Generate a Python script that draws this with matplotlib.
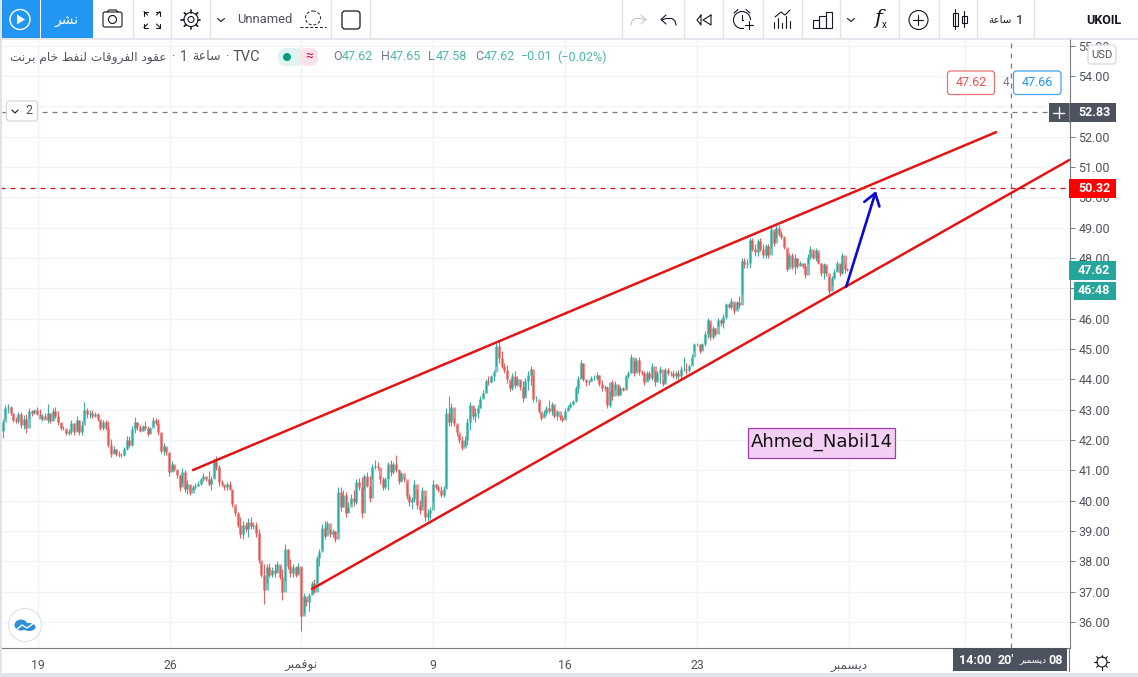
import numpy as np
import matplotlib
matplotlib.use("Agg")
import matplotlib.pyplot as plt
from matplotlib.patches import Rectangle, FancyBboxPatch, Circle, Polygon, Ellipse

plt.rcParams['font.family'] = ['Roboto', 'DejaVu Sans']

highs = [42.50,42.69,43.16,43.20,43.13,42.89,42.76,42.91,42.93,42.83,
42.87,43.05,43.00,43.03,43.08,43.02,42.87,42.89,43.20,42.89,
43.05,43.09,42.95,42.56,42.47,42.34,42.36,42.67,42.56,42.78,
42.65,42.62,43.25,43.05,43.00,42.98,42.91,42.89,42.67,42.65,
42.65,42.62,42.03,41.79,41.70,41.63,41.57,41.77,42.12,42.14,
42.45,42.76,42.59,42.50,42.50,42.62,42.45,42.43,42.75,42.72,
42.69,42.23,41.90,41.74,41.57,41.32,41.15,41.02,40.86,41.08,
41.02,40.67,40.53,40.53,40.58,40.64,40.75,40.91,40.78,40.97,
40.80,41.41,41.46,41.19,40.69,40.53,40.61,40.64,40.34,39.79,
39.64,39.45,39.34,39.29,39.42,39.45,39.29,39.31,39.07,37.96,
37.91,37.91,37.96,37.80,37.91,38.02,37.85,37.74,38.57,38.41,
38.07,37.91,37.85,37.96,37.80,36.97,36.75,36.97,37.36,37.41,
38.19,38.41,39.23,39.34,39.34,39.07,39.07,39.01,40.45,40.45,
40.34,40.28,39.95,40.23,40.34,40.72,40.75,40.78,40.89,40.94,
40.83,41.22,41.33,41.28,40.83,40.78,40.78,41.28,41.33,41.28,
41.52,41.05,40.94,40.78,40.61,40.23,40.12,40.67,40.39,40.01,
40.45,40.17,39.73,39.79,40.67,40.56,40.52,40.48,40.50,43.05,
43.46,43.22,42.72,42.50,42.17,42.12,42.12,42.72,43.27,43.11,
43.05,43.16,43.44,43.66,44.02,44.10,44.15,44.32,45.20,45.29,
44.92,44.54,44.48,43.93,44.21,44.26,44.10,43.99,43.93,44.04,
44.26,44.43,44.15,43.44,43.27,42.89,43.00,43.11,43.33,43.27,
43.05,43.00,42.84,42.84,43.05,43.16,43.27,43.31,43.77,44.10,
44.63,44.54,43.99,43.99,44.10,44.15,44.23,44.15,43.99,43.82,
43.77,43.60,43.99,43.93,43.82,43.77,43.75,44.15,44.26,44.85,
44.59,44.70,44.74,44.32,44.26,44.26,44.26,44.54,44.26,44.26,
44.43,43.99,44.37,44.37,44.26,44.32,44.26,44.32,44.44,44.74,
44.55,44.49,44.82,45.21,45.21,45.15,45.21,45.59,46.03,45.87,
45.76,45.70,46.03,45.98,46.14,46.53,46.53,46.69,46.53,46.60,
46.75,48.01,48.01,47.96,48.67,48.67,48.45,48.62,48.65,48.45,
48.45,48.45,49.02,48.89,49.09,49.09,48.89,48.73,48.29,48.18,
48.18,48.12,48.01,47.90,47.85,47.85,48.12,48.40,48.23,48.34,
48.18,47.85,47.85,47.74,47.41,47.41,47.63,47.90,47.79,48.18,
47.85,47.68]

lows = [42.07,42.07,42.69,42.89,42.83,42.59,42.56,42.56,42.40,42.36,
42.23,42.72,42.78,42.87,42.83,42.78,42.62,42.72,42.56,42.56,
42.65,42.72,42.51,42.32,42.32,42.15,42.18,42.20,42.15,42.29,
42.15,42.18,42.62,42.72,42.72,42.72,42.76,42.62,42.32,42.32,
42.32,41.77,41.43,41.57,41.48,41.43,41.43,41.46,41.68,41.77,
41.79,42.23,42.34,42.25,42.29,42.34,42.12,42.23,42.45,42.50,
42.18,41.57,41.52,41.52,40.83,40.97,40.99,40.75,40.31,40.58,
40.28,40.23,40.18,40.36,40.38,40.47,40.53,40.64,40.64,40.47,
40.34,40.78,41.02,40.47,40.47,40.36,40.34,40.34,39.79,39.51,
39.12,38.76,38.74,38.98,38.79,39.07,39.07,38.81,37.96,37.47,
36.59,37.30,37.47,37.47,37.47,37.69,37.41,36.73,37.36,37.74,
37.47,37.47,37.47,37.63,35.70,36.31,36.53,36.36,36.92,36.95,
37.30,37.85,38.41,38.74,39.07,38.79,38.81,38.65,38.96,39.67,
39.79,39.45,39.62,39.90,39.84,39.90,40.34,39.42,40.39,40.45,
39.97,40.72,41.05,41.00,40.56,40.34,40.39,40.34,40.83,40.89,
40.94,40.56,40.61,40.61,40.06,39.84,39.73,39.95,39.73,39.57,
39.84,39.34,39.34,39.40,39.95,40.39,40.28,40.12,40.12,40.45,
42.45,42.45,42.45,42.12,41.90,41.66,41.79,41.85,42.34,42.69,
42.61,42.72,43.05,43.38,43.55,43.82,43.88,43.93,44.43,44.54,
44.37,44.21,43.88,43.60,43.66,43.71,43.77,43.66,43.27,43.44,
43.66,43.82,43.27,43.27,42.89,42.65,42.78,42.84,42.89,42.84,
42.72,42.65,42.67,42.58,42.72,43.00,43.05,43.16,43.27,43.55,
44.04,43.93,43.77,43.82,43.93,43.99,43.99,43.77,43.60,43.60,
43.05,43.09,43.33,43.66,43.44,43.49,43.60,43.71,44.04,44.21,
44.10,44.26,44.15,44.15,43.82,43.99,43.99,43.99,43.79,43.99,
43.88,43.79,43.93,44.15,44.10,44.04,44.01,44.01,44.05,44.27,
44.19,44.25,44.49,44.93,45.10,44.88,44.99,45.10,45.37,45.29,
45.32,45.43,45.76,45.76,45.70,45.98,46.36,46.31,46.14,46.31,
46.36,46.80,47.68,47.68,47.68,48.23,48.07,48.07,48.23,48.01,
48.01,48.01,48.34,48.40,48.67,48.73,48.62,48.29,47.57,47.74,
47.63,47.48,47.68,47.74,47.68,47.35,47.79,47.96,47.96,47.90,
47.79,47.41,47.30,47.41,46.80,47.08,47.30,47.57,47.41,47.46,
47.52,47.57]

closes = [42.30,42.60,43.05,43.10,42.90,42.65,42.62,42.85,42.50,42.70,
42.40,42.95,42.88,43.00,42.85,42.70,42.80,42.65,42.90,42.62,
42.95,42.80,42.60,42.40,42.38,42.22,42.30,42.55,42.25,42.65,
42.25,42.50,43.00,42.85,42.90,42.80,42.85,42.70,42.40,42.60,
42.38,41.85,41.55,41.72,41.55,41.50,41.50,41.70,42.00,41.85,
42.35,42.60,42.42,42.30,42.45,42.40,42.20,42.40,42.65,42.55,
42.25,41.65,41.80,41.60,40.95,41.20,41.05,40.85,40.45,40.95,
40.40,40.55,40.25,40.45,40.50,40.55,40.70,40.80,40.70,40.55,
40.70,41.30,41.10,40.60,40.55,40.45,40.55,40.40,39.90,39.60,
39.20,38.90,39.20,39.05,39.30,39.15,39.20,38.95,38.05,37.55,
37.05,37.80,37.55,37.70,37.60,37.90,37.50,37.00,38.40,37.85,
37.60,37.80,37.55,37.85,36.20,36.85,36.65,36.90,37.30,37.00,
38.10,38.30,39.10,38.85,39.25,38.90,39.00,38.75,40.30,39.80,
40.20,39.60,39.80,40.10,39.95,40.60,40.45,39.60,40.80,40.50,
40.10,41.10,41.15,41.10,40.70,40.45,40.70,41.20,40.95,41.20,
41.00,40.65,40.90,40.70,40.15,39.95,40.05,40.55,39.85,39.70,
40.35,39.45,39.60,39.70,40.55,40.45,40.35,40.20,40.40,42.90,
42.60,43.10,42.55,42.25,42.00,41.75,42.00,42.60,43.15,42.80,
42.90,43.05,43.35,43.55,43.95,43.90,44.10,44.25,45.10,44.70,
44.45,44.30,44.00,43.70,44.10,43.80,44.00,43.75,43.40,43.95,
44.15,44.35,43.35,43.35,42.95,42.72,42.90,43.05,42.95,43.20,
42.80,42.95,42.75,42.65,42.95,43.10,43.20,43.28,43.70,44.00,
44.55,44.00,43.90,43.95,44.05,44.05,44.15,43.85,43.70,43.75,
43.15,43.90,43.45,43.85,43.50,43.70,43.65,44.10,44.20,44.75,
44.20,44.65,44.25,44.20,43.90,44.20,44.05,44.45,43.90,44.20,
44.35,43.85,44.30,44.20,44.20,44.10,44.20,44.10,44.35,44.35,
44.30,44.45,44.75,45.15,45.15,44.95,45.15,45.50,45.95,45.40,
45.70,45.50,45.95,45.85,46.05,46.50,46.40,46.60,46.25,46.55,
46.45,47.90,47.80,47.85,48.60,48.30,48.20,48.55,48.30,48.10,
48.40,48.10,48.95,48.50,49.00,48.80,48.70,48.35,47.65,48.10,
47.70,48.00,47.75,47.85,47.75,47.45,48.05,48.30,48.00,48.25,
47.85,47.50,47.80,47.50,46.90,47.35,47.55,47.85,47.50,48.10,
47.65,47.62]

price_ticks = list(range(36, 56))
hidden_price_ticks = [47, 53]
date_positions = [14.4, 64.4, 114, 164, 214, 264, 321.6]
date_names = ["19", "26", "نوفمبر", "9", "16", "23", "ديسمبر"]
hidden_date_position = 365.5
upper_channel = ([73.1, 377.3], [41.01, 52.15])
lower_channel = ([118.2, 405.0], [37.09, 51.23])
target_arrow = ([320.5, 331.8], [47.05, 50.21])
target_level = 50.32
cursor_level = 52.83
cursor_bar = 382.8
last_price = 47.62

# ---------- Arabic shaping: matplotlib draws glyphs one by one, left to right
_forms = {'ا':(0xFE8D,0xFE8E),'ب':(0xFE8F,0xFE90,0xFE91,0xFE92),'ة':(0xFE93,0xFE94),
 'ت':(0xFE95,0xFE96,0xFE97,0xFE98),'خ':(0xFEA5,0xFEA6,0xFEA7,0xFEA8),'د':(0xFEA9,0xFEAA),
 'ر':(0xFEAD,0xFEAE),'س':(0xFEB1,0xFEB2,0xFEB3,0xFEB4),'ش':(0xFEB5,0xFEB6,0xFEB7,0xFEB8),
 'ط':(0xFEC1,0xFEC2,0xFEC3,0xFEC4),'ع':(0xFEC9,0xFECA,0xFECB,0xFECC),'ف':(0xFED1,0xFED2,0xFED3,0xFED4),
 'ق':(0xFED5,0xFED6,0xFED7,0xFED8),'ل':(0xFEDD,0xFEDE,0xFEDF,0xFEE0),'م':(0xFEE1,0xFEE2,0xFEE3,0xFEE4),
 'ن':(0xFEE5,0xFEE6,0xFEE7,0xFEE8),'و':(0xFEED,0xFEEE),'ي':(0xFEF1,0xFEF2,0xFEF3,0xFEF4)}
def ar(s):
    if not any(ch in _forms for ch in s):
        return s
    out = []
    for k, c in enumerate(s):
        f = _forms.get(c)
        if f is None:
            out.append(c); continue
        p = s[k-1] if k else ' '
        n = s[k+1] if k+1 < len(s) else ' '
        jp = p in _forms and len(_forms[p]) == 4
        jn = len(f) == 4 and n in _forms
        if jp and jn: g = f[3]
        elif jp: g = f[1]
        elif jn: g = f[2]
        else: g = f[0]
        out.append(chr(g))
    return ''.join(out[::-1])

W, H = 1138, 677
fig = plt.figure(figsize=(W/100, H/100), dpi=100, facecolor='white')
PXB = 2.64
top_px, bot_px, right_px = 38, 648, 1069.5
ax = fig.add_axes([0, (H-bot_px)/H, right_px/W, (bot_px-top_px)/H])
ax.set_xlim(0, right_px/PXB)
ax.set_ylim(36-(bot_px-622)/30.33, 36+(622-top_px)/30.33)
ax.set_facecolor('white')
for s in ['top', 'left']:
    ax.spines[s].set_visible(False)
ax.spines['right'].set_color('#787b86'); ax.spines['bottom'].set_color('#787b86')
ax.spines['right'].set_linewidth(0.8); ax.spines['bottom'].set_linewidth(0.8)
ax.yaxis.tick_right()
ax.set_yticks(price_ticks)
ax.set_yticklabels(["" if v in hidden_price_ticks else f"{v:.2f}" for v in price_ticks],
                   fontsize=9, color='#50535e')
ax.set_xticks(date_positions + [hidden_date_position])
ax.set_xticklabels([ar(n) for n in date_names] + [""], fontsize=8.8, color='#50535e')
ax.tick_params(axis='y', length=3.5, width=0.7, color='#787b86', pad=3)
ax.tick_params(axis='x', length=0, pad=8)
ax.grid(True, color='#f0f3fa', lw=1.0)
ax.set_axisbelow(True)

x = np.arange(len(closes))
c = np.array(closes)
o = np.r_[c[0], c[:-1]]
cols = ['#26a69a' if b >= a else '#e0524f' for a, b in zip(o, c)]
ax.vlines(x, lows, highs, colors=cols, lw=0.8, alpha=0.9, zorder=3)
ax.vlines(x, np.minimum(o, c), np.maximum(o, c), colors=cols, lw=2.3, alpha=0.62, zorder=3)

ax.plot(*upper_channel, color='#e31414', lw=1.8, zorder=5, solid_capstyle='round')
ax.plot(*lower_channel, color='#e31414', lw=1.8, zorder=5, solid_capstyle='round')
ax.annotate('', xy=(target_arrow[0][1], target_arrow[1][1]), xytext=(target_arrow[0][0], target_arrow[1][0]),
            arrowprops=dict(arrowstyle='->,head_length=0.55,head_width=0.38', color='#0a0ad0', lw=1.9,
                            shrinkA=0, shrinkB=0, mutation_scale=15), zorder=6)
ax.axhline(target_level, color='#c8141e', lw=0.9, ls=(0, (4, 4)), zorder=4)
ax.plot([2/PXB, 1049/PXB], [cursor_level]*2, color='#787b86', lw=0.9, ls=(0, (4, 4)), zorder=4)
ax.axvline(cursor_bar, color='#787b86', lw=0.9, ls=(0, (4, 4)), zorder=4)

# ---------- interface overlay in screen pixels
ui = fig.add_axes([0, 0, 1, 1], zorder=10)
ui.set_xlim(0, W); ui.set_ylim(H, 0); ui.axis('off'); ui.patch.set_alpha(0)
DK = '#131722'; GR = '#50535e'; TEAL = '#26a69a'

def L(xs, ys, col=DK, lw=0.8, **k):
    ui.plot(xs, ys, color=col, lw=lw, solid_capstyle='round', **k)
def R(x0, y0, x1, y1, fc, ec='none', lw=0.8, rad=0, z=3):
    if rad:
        ui.add_patch(FancyBboxPatch((x0+rad, y0+rad), x1-x0-2*rad, y1-y0-2*rad,
                     boxstyle=f"round,pad={rad}", fc=fc, ec=ec, lw=lw, zorder=z))
    else:
        ui.add_patch(Rectangle((x0, y0), x1-x0, y1-y0, fc=fc, ec=ec, lw=lw, zorder=z))
def T(x0, y0, s, col=GR, fs=9, ha='left', **k):
    k.setdefault('zorder', 5)
    ui.text(x0, y0, s, color=col, fontsize=fs, ha=ha, va='center', **k)

# toolbar
R(0, 0, W, 38, 'white', z=1)
L([0, W], [38.5, 38.5], '#e0e3eb', 1.2)
R(0, 0, 2, H, '#e0e3eb', z=2)
R(2, 0, 40, 38, '#2196f3'); R(41, 0, 93, 38, '#2196f3')
ui.add_patch(Circle((20, 19.5), 10, fc='none', ec='white', lw=1, zorder=4))
ui.add_patch(Polygon([[17, 14.5], [17, 24.5], [25, 19.5]], fc='white', zorder=4))
T(67, 20, ar("نشر"), 'white', 10, 'center', family=['DejaVu Sans'])
for sx in [133, 171, 210.5, 331.5, 370.5, 622, 684.5, 723.5, 763, 802, 840.5, 899, 939, 977.5, 1034.5]:
    L([sx, sx], [0, 38], '#e0e3eb', 1)
# camera
R(103, 12, 122, 27, 'none', DK, 0.8, 2, 4)
ui.add_patch(Circle((112.5, 19.5), 4, fc='none', ec=DK, lw=0.8, zorder=4))
L([107, 109, 116, 118], [12, 10, 10, 12])
# fullscreen
for sx, sy in [(-1, -1), (1, -1), (-1, 1), (1, 1)]:
    cx, cy = 152+sx*8, 19.5+sy*8
    L([cx-sx*4, cx-0, cx], [cy, cy, cy-sy*4]); L([cx, cx-sx*3.5], [cy, cy-sy*3.5])
# gear
ui.add_patch(Circle((191, 19.5), 3, fc='none', ec=DK, lw=0.8, zorder=4))
ui.add_patch(Circle((191, 19.5), 7, fc='none', ec=DK, lw=0.8, zorder=4))
for a in np.deg2rad(np.arange(0, 360, 45)):
    L([191+7*np.cos(a), 191+9.5*np.cos(a)], [19.5+7*np.sin(a), 19.5+9.5*np.sin(a)], DK, 1.2)
# chevrons
for cx in [221, 851]:
    L([cx-3.5, cx, cx+3.5], [18.5, 21.5, 18.5])
T(237, 19.5, "Unnamed", GR, 9.4)
ui.add_patch(Ellipse((313, 18), 15, 14, fc='none', ec=DK, lw=0.7, ls=(0, (3, 2)), zorder=4))
L([300, 326], [27, 27], DK, 0.7, ls=(0, (3, 2)))
R(342, 11, 360, 29, 'none', DK, 0.9, 3, 4)
# right-hand toolbar icons
ui.plot([645, 641, 635, 632, 631], [20, 18.5, 18.5, 21, 25], color='#c5c8d0', lw=0.8)
L([641, 646, 641], [15, 19.5, 24], '#c5c8d0', 0.8)
ui.plot(662+np.array([0, 4, 10, 13, 14]), [20, 18.5, 18.5, 21, 25], color=DK, lw=0.8)
L([666, 661, 666], [15, 19.5, 24])
L([701, 697, 701, 701], [15, 20, 25, 15]); L([711, 703, 711, 711], [15, 20, 25, 15])
ui.add_patch(Circle((742, 20), 8.5, fc='none', ec=DK, lw=0.8, zorder=4))
L([734, 738], [13, 9.5]); L([746, 750], [9.5, 13])
L([742, 742, 746], [15, 20, 20])
R(744, 20, 754, 30, 'white', z=4)
L([745, 753], [25, 25], zorder=5); L([749, 749], [21, 29], zorder=5)
L([775, 781, 785, 790], [17, 12, 15, 10])
for k, h in enumerate([6, 10, 5, 12, 7]):
    L([774+4*k]*2, [28-h, 28])
for bx, bw, bh in [(813, 6, 8), (819, 7, 12), (826, 6, 16)]:
    ui.add_patch(Rectangle((bx, 28-bh), bw, bh, fc='none', ec=DK, lw=0.8, zorder=4))
T(878, 19, "f", DK, 15, 'center', style='italic', family=['DejaVu Serif'])
T(884, 25, "x", DK, 7, 'center')
ui.add_patch(Circle((918.5, 20), 9.5, fc='none', ec=DK, lw=0.8, zorder=4))
L([913.5, 923.5], [20, 20]); L([918.5, 918.5], [15, 25])
R(953, 13, 958, 26, 'none', DK, 0.8, 0, 4); L([955.5, 955.5], [9, 29])
R(962, 16, 967, 23, 'none', DK, 0.8, 0, 4); L([964.5, 964.5], [11, 27])
T(1023, 20, "1", DK, 9.5, 'right')
T(988, 20, ar("ساعة"), DK, 7.4, 'left', family=['DejaVu Sans'])
T(1104, 20, "UKOIL", DK, 9, 'center', fontweight='bold')

# legend line
T(10, 57, ar("عقود الفروقات لنفط خام برنت"), GR, 8.7, family=['DejaVu Sans'])
T(171, 57, "·", GR, 9); T(180, 57, "1", GR, 10)
T(192, 57, ar("ساعة"), GR, 9, family=['DejaVu Sans'])
T(225, 57, "·", GR, 9); T(233, 57, "TVC", GR, 10.5)
R(278, 48, 300, 66, '#dff3f1', rad=8); R(299, 48, 318, 66, '#fbe1ea', rad=8)
R(297, 48, 300, 66, '#dff3f1')
ui.add_patch(Circle((287, 57), 4, fc='#089981', ec='none', zorder=5))
T(309, 56.5, "≈", '#d81b60', 10, 'center')
for lx, vx, k, v in [(333, 342, 'O', '47.62'), (381, 390, 'H', '47.65'), (428, 436, 'L', '47.58'), (475, 484, 'C', '47.62')]:
    T(lx, 57, k, '#787b86', 9); T(vx, 57, v, '#4db6ac', 9)
T(521, 57, "−0.01", '#4db6ac', 9); T(557, 57, "(−0.02%)", '#4db6ac', 9)

# price chips
R(947.5, 71, 994.5, 94.5, 'white', '#e57373', 0.9, 3, 5)
T(971, 83, "47.62", '#ef5350', 9, 'center', zorder=6)
T(1006, 83, "4", '#787b86', 8.6, 'center', zorder=6)
R(1013.5, 71, 1061, 94.5, 'white', '#42a5f5', 0.9, 3, 5)
T(1037, 83, "47.66", '#2196f3', 9, 'center', zorder=6)
R(1088, 45, 1116, 64, 'white', '#d6d8de', 0.9, 3, 5)
T(1102, 55, "USD", GR, 8, 'center', zorder=6)
R(1049, 103, 1116, 121.5, '#4c525e', z=5)
L([1059, 1059], [107, 118], 'white', 1, zorder=6); L([1053.5, 1064.5], [112.5, 112.5], 'white', 1, zorder=6)
L([1069.5, 1069.5], [103, 121.5], '#787b86', 0.8, zorder=6)
T(1078, 112.5, f"{cursor_level:.2f}", 'white', 9, fontweight='bold', zorder=6)
R(1069.5, 179, 1116, 197.5, '#ff0000', z=5)
T(1078, 188.5, f"{target_level:.2f}", 'white', 9, fontweight='bold', zorder=6)
R(1069.5, 261, 1116, 280, TEAL, z=5)
T(1078, 270.5, f"{last_price:.2f}", 'white', 9, fontweight='bold', zorder=6)
R(1074, 282, 1116, 300, TEAL, z=5)
T(1078, 291, "46:48", 'white', 9, fontweight='bold', zorder=6)

# collapsed-objects button
R(6.5, 101, 37.5, 121, 'white', '#d6d8de', 0.9, 3, 5)
L([12, 15, 18], [110, 113, 110], zorder=6)
T(29, 111, "2", GR, 9, 'center', zorder=6)

# watermark logo
ui.add_patch(Circle((25, 625), 16.5, fc='white', ec='#e0e3eb', lw=0.9, zorder=5))
ui.add_patch(Ellipse((21, 625), 13, 11, fc='#2e8fd8', ec='none', zorder=6))
ui.add_patch(Ellipse((29, 627), 13, 8, fc='#2e8fd8', ec='none', zorder=6))
L([16, 22, 27, 34], [630, 625, 628, 623], 'white', 1, zorder=7)

# author tag
R(748, 428, 895.5, 458, '#f3d0f3', '#a03ab0', 0.9, 0, 5)
T(822, 441.5, "Ahmed_Nabil14", '#111111', 13, 'center', family=['DejaVu Sans'], zorder=6)

# time cursor chip and bottom strip
R(953, 648, 1067, 671, '#4c525e', z=5)
T(959, 660, "14:00", 'white', 9, fontweight='bold', zorder=6)
T(998, 660, "20'", 'white', 9, fontweight='bold', zorder=6)
T(1046, 660, ar("ديسمبر"), 'white', 6.4, 'right', family=['DejaVu Sans'], zorder=6)
T(1048, 660, "08", 'white', 9, fontweight='bold', zorder=6)
L([1069.5, 1069.5], [648, 671], '#787b86', 0.8, zorder=6)
ui.add_patch(Circle((1102, 662), 5, fc='none', ec=DK, lw=0.8, zorder=6))
for a in np.deg2rad(np.arange(0, 360, 45)):
    L([1102+5*np.cos(a), 1102+7.5*np.cos(a)], [662+5*np.sin(a), 662+7.5*np.sin(a)], DK, 0.8, zorder=6)
R(0, 673, W, 677, '#e0e3eb', z=5)

fig.savefig('out.png', dpi=100)
